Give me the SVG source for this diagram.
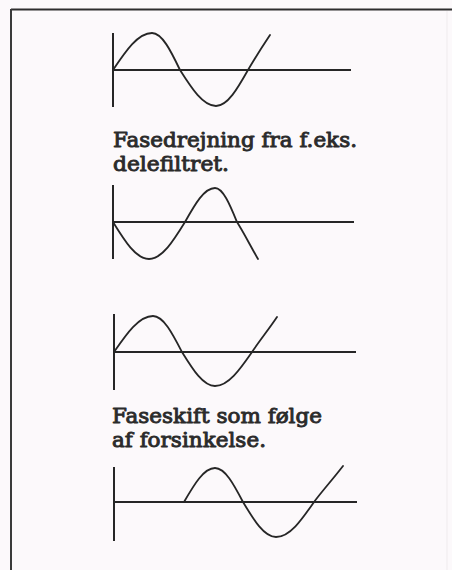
<svg xmlns="http://www.w3.org/2000/svg" width="452" height="570" viewBox="0 0 452 570">
<style>
.ax{stroke:#262626;stroke-width:2;fill:none;stroke-linecap:butt}
.wv{stroke:#262626;stroke-width:1.8;fill:none;stroke-linecap:round;stroke-linejoin:round}
.lbl{font-family:"DejaVu Serif","Liberation Serif",serif;font-size:20px;fill:#2b2b2b;stroke:#2b2b2b;stroke-width:0.9;stroke-linejoin:round}
</style>
<rect x="0" y="0" width="452" height="570" fill="#fcf9fb"/>
<g id="frame">
<line x1="11" y1="9.5" x2="452" y2="9.5" stroke="#2e2e2e" stroke-width="2"/>
<line x1="11" y1="9" x2="11" y2="570" stroke="#3a3a3a" stroke-width="2"/>
<line x1="447" y1="11" x2="447" y2="570" stroke="#efebed" stroke-width="1"/>
</g>
<g id="wave1">
<line class="ax" x1="113" y1="33" x2="113" y2="107"/>
<line class="ax" x1="113" y1="70" x2="351" y2="70"/>
<path class="wv" d="M113 70 C125.7 51 137.9 33 152 33 C162.1 33 170.9 51 180 70 C191.7 88.4 203 106 216 106 C227.6 106 237.6 88.4 248 70 C255 58 262 47 270 35"/>
</g>
<g id="label1">
<text class="lbl" x="113" y="147" textLength="244" lengthAdjust="spacingAndGlyphs">Fasedrejning fra f.eks.</text>
<text class="lbl" x="113" y="171" textLength="116" lengthAdjust="spacingAndGlyphs">delefiltret.</text>
</g>
<g id="wave2">
<line class="ax" x1="113" y1="185" x2="113" y2="259"/>
<line class="ax" x1="113" y1="222" x2="354" y2="222"/>
<path class="wv" d="M113 222 C124.7 241 136 259 149 259 C162 259 173.3 241 185 222 C194.8 204.6 204.1 188 215 188 C223 188 229.8 204.6 237 222 C244 233 251 247 258 259"/>
</g>
<g id="wave3">
<line class="ax" x1="114" y1="314" x2="114" y2="390"/>
<line class="ax" x1="114" y1="352" x2="356" y2="352"/>
<path class="wv" d="M114 352 C126.7 333.6 138.9 316 153 316 C163.5 316 172.5 333.6 182 352 C192.8 369.4 203 386 215 386 C228.4 386 239.9 369.4 252 352 C260 340 269 329 277 317"/>
</g>
<g id="label2">
<text class="lbl" x="112" y="423" textLength="210" lengthAdjust="spacingAndGlyphs">Faseskift som følge</text>
<text class="lbl" x="112" y="447" textLength="154" lengthAdjust="spacingAndGlyphs">af forsinkelse.</text>
</g>
<g id="wave4">
<line class="ax" x1="114" y1="467" x2="114" y2="541"/>
<line class="ax" x1="114" y1="502" x2="357" y2="502"/>
<path class="wv" d="M184 502 C194.1 484.6 203.8 468 215 468 C225.1 468 233.9 484.6 243 502 C253.8 519.9 264 537 276 537 C289.8 537 301.6 519.9 314 502 C323 490 333 479 343 466"/>
</g>
</svg>
